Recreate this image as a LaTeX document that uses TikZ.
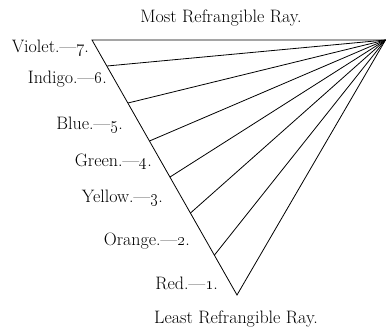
\documentclass[tikz,border=0pt]{standalone}
\begin{document}
\begin{tikzpicture}[x=1pt,y=-1pt,
  lab/.style={inner sep=0pt,anchor=east,font=\fontsize{18}{20}\selectfont},
  ttl/.style={inner sep=0pt,font=\fontsize{18}{20}\selectfont},
  ray/.style={line width=0.8pt}]
\useasboundingbox (0,0) rectangle (386,329);
\coordinate (A) at (385.5,40);
\coordinate (T) at (92,40);
\coordinate (B) at (237,295);
\coordinate (p6) at (107,66);
\coordinate (p5) at (128,103);
\coordinate (p4) at (149.5,141);
\coordinate (p3) at (170,177);
\coordinate (p2) at (190.5,213);
\coordinate (p1) at (214.5,255);
\draw[ray,line join=miter] (A) -- (T) -- (B) -- cycle;
\foreach \p in {p6,p5,p4,p3,p2,p1} \draw[ray] (A) -- (\p);
\node[ttl] (most) at (221,18) {Most Refrangible Ray.};
\node[ttl] (least) at (236,319) {Least Refrangible Ray.};
\node[lab] (v) at (89,48) {Violet.---\oldstylenums{7}.};
\node[lab] (i) at (107,79) {Indigo.---\oldstylenums{6}.};
\node[lab] (b) at (123,125) {Blue.---\oldstylenums{5}.};
\node[lab] (g) at (152,162) {Green.---\oldstylenums{4}.};
\node[lab] (y) at (163,198) {Yellow.---\oldstylenums{3}.};
\node[lab] (o) at (190,241) {Orange.---\oldstylenums{2}.};
\node[lab] (r) at (218,283) {Red.---\oldstylenums{1}.};
\end{tikzpicture}
\end{document}
